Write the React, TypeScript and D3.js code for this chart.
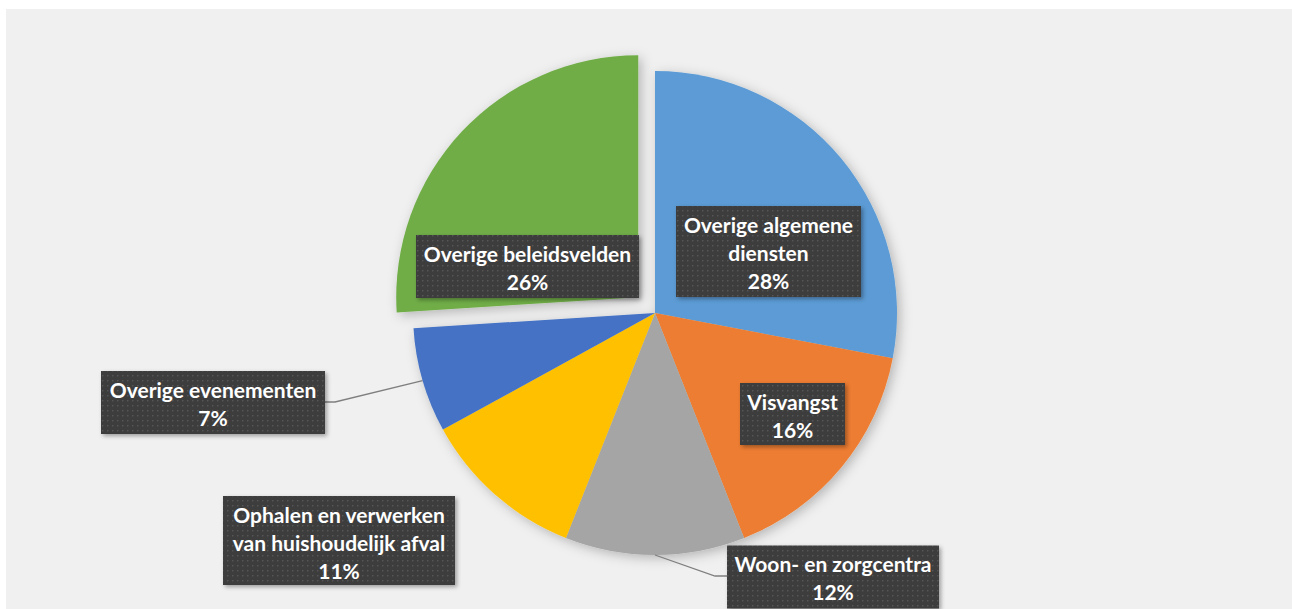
import { useEffect } from "react";
import * as d3 from "d3";

const categories = [
  "Overige algemene diensten",
  "Visvangst",
  "Woon- en zorgcentra",
  "Ophalen en verwerken van huishoudelijk afval",
  "Overige evenementen",
  "Overige beleidsvelden",
];
const values = [28, 16, 12, 11, 7, 26];
const colors = ["#5B9BD5", "#ED7D31", "#A5A5A5", "#FFC000", "#4472C4", "#70AD47"];
// label lines as shown in the boxes
const labelLines = [
  ["Overige algemene", "diensten"],
  ["Visvangst"],
  ["Woon- en zorgcentra"],
  ["Ophalen en verwerken", "van huishoudelijk afval"],
  ["Overige evenementen"],
  ["Overige beleidsvelden"],
];
const exploded = [false, false, false, false, false, true];

export default function App() {
  useEffect(() => {
    document.body.style.margin = "0";
  }, []);

  const width = 1292;
  const height = 609;
  const cx = 655;
  const cy = 313;
  const radius = 242;
  const explodeBy = 23;

  const pie = d3
    .pie<number>()
    .sort(null)
    .value((d) => d)(values);
  const arc = d3.arc<d3.PieArcDatum<number>>().innerRadius(0).outerRadius(radius);
  const edge = d3.arc<d3.PieArcDatum<number>>().innerRadius(radius).outerRadius(radius);

  const total = d3.sum(values);
  const fmt = (v: number) => `${Math.round((v / total) * 100)}%`;

  // label box placement relative to the pie centre (box centre, width, height)
  const boxes = [
    { dx: 113.5, dy: -61.5, w: 185, h: 91 },
    { dx: 137.5, dy: 101, w: 105, h: 62 },
    { dx: 178, dy: 264, w: 212, h: 63 },
    { dx: -316, dy: 227.5, w: 232, h: 89 },
    { dx: -442, dy: 89.5, w: 224, h: 63 },
    { dx: -127.5, dy: -46.5, w: 223, h: 63 },
  ];
  // leader elbows (only for labels placed outside the pie)
  const elbows: ([number, number] | null)[] = [null, null, [60, 263], null, [-320, 89], null];

  const offset = (d: d3.PieArcDatum<number>, i: number) => {
    if (!exploded[i]) return [0, 0];
    const a = (d.startAngle + d.endAngle) / 2;
    return [Math.sin(a) * explodeBy, -Math.cos(a) * explodeBy];
  };

  return (
    <svg width={width} height={height} style={{ display: "block" }}>
      <defs>
        <pattern id="dots" width="5" height="5" patternUnits="userSpaceOnUse">
          <rect width="5" height="5" fill="#3d3d3d" />
          <rect x="2" y="2" width="1.4" height="1.4" fill="#575757" />
        </pattern>
        <filter id="pieShadow" x="-20%" y="-20%" width="140%" height="140%">
          <feDropShadow dx="3" dy="3" stdDeviation="6" floodColor="#000" floodOpacity="0.25" />
        </filter>
        <filter id="boxShadow" x="-20%" y="-20%" width="140%" height="150%">
          <feDropShadow dx="2" dy="2" stdDeviation="2" floodColor="#000" floodOpacity="0.35" />
        </filter>
      </defs>
      <rect x={6} y={9} width={width - 6} height={height - 9} fill="#f0f0f0" />

      <g transform={`translate(${cx},${cy})`}>
        <g filter="url(#pieShadow)">
          {pie.map((d, i) => {
            const [ox, oy] = offset(d, i);
            return (
              <path
                key={i}
                d={arc(d) || ""}
                fill={colors[i]}
                transform={`translate(${ox},${oy})`}
              />
            );
          })}
        </g>

        {pie.map((d, i) => {
          const e = elbows[i];
          if (!e) return null;
          const [px, py] = edge.centroid(d);
          const b = boxes[i];
          const bx = b.dx < e[0] ? b.dx + b.w / 2 : b.dx - b.w / 2;
          return (
            <polyline
              key={i}
              points={`${px},${py} ${e[0]},${e[1]} ${bx},${e[1]}`}
              fill="none"
              stroke="#7f7f7f"
              strokeWidth={1.3}
            />
          );
        })}

        {pie.map((d, i) => {
          const b = boxes[i];
          const lines = [...labelLines[i], fmt(d.value)];
          const x0 = b.dx - b.w / 2;
          const y0 = b.dy - b.h / 2;
          return (
            <g key={i}>
              <rect
                x={x0}
                y={y0}
                width={b.w}
                height={b.h}
                fill="url(#dots)"
                filter="url(#boxShadow)"
              />
              <text
                textAnchor="middle"
                fill="#ffffff"
                fontFamily="Lato, 'Open Sans', sans-serif"
                fontWeight="bold"
                fontSize={21}
              >
                {lines.map((t, j) => (
                  <tspan key={j} x={b.dx} y={y0 + 26.5 + j * 28}>
                    {t}
                  </tspan>
                ))}
              </text>
            </g>
          );
        })}
      </g>
    </svg>
  );
}
